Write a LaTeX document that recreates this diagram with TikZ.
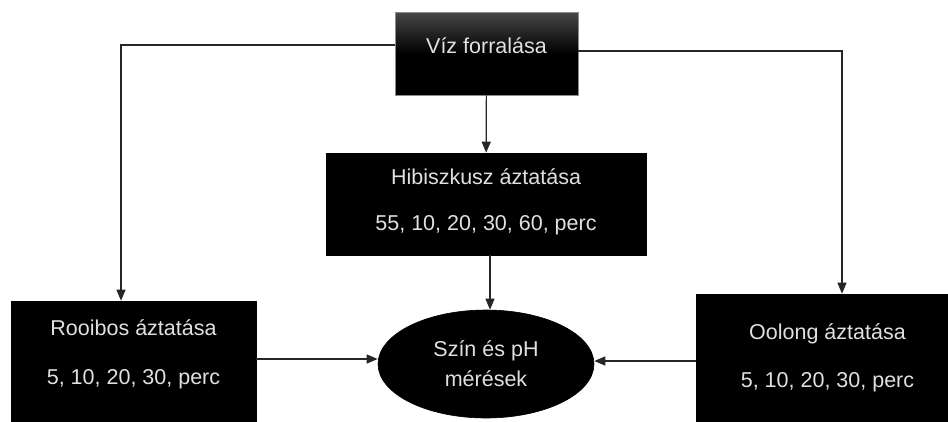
\documentclass[tikz,border=0pt]{standalone}
\usepackage{fontspec}
\setmainfont{Liberation Sans}
\usetikzlibrary{shapes.geometric, arrows.meta, positioning}

\begin{document}
\begin{tikzpicture}[x=1pt, y=-1pt]
    \tikzstyle{tbox}=[rectangle, fill=black, draw=black, line width=0.6pt,
                      text=white!88!black, align=center, inner sep=0pt,
                      font=\fontsize{21.5}{25}\selectfont]
    \tikzstyle{arr}=[-{Triangle[length=11pt, width=9pt]}, black!85, line width=1.2pt]

    \useasboundingbox (0,0) rectangle (948,421);

    \node[tbox, minimum width=183, minimum height=83, draw=black!45,
          top color=black!72, bottom color=black, middle color=black,
          text height=9pt, text depth=9pt] (viz) at (486.5,53.5) {Víz forralása};
    \node[tbox, minimum width=320, minimum height=102,
          text height=60pt, text depth=7pt] (hib) at (486,204)
        {Hibiszkusz áztatása\\[21pt]55, 10, 20, 30, 60, perc};
    \node[tbox, minimum width=245, minimum height=120,
          text height=60pt, text depth=13pt] (roo) at (133.5,361)
        {Rooibos áztatása\\[24pt]5, 10, 20, 30, perc};
    \node[tbox, minimum width=263, minimum height=127] (ool) at (827.5,357.5)
        {Oolong áztatása\\[23pt]5, 10, 20, 30, perc};
    \node[tbox, ellipse, minimum width=216, minimum height=108] (ell) at (486,364)
        {Szín és pH\\[5pt]mérések};

    \draw[arr] ([yshift=8.5pt]viz.west) -| ([xshift=-12.5pt]roo.north);
    \draw[arr] ([yshift=2.5pt]viz.east) -| ([xshift=14.5pt]ool.north);
    \draw[arr] (viz) -- (hib);
    \draw[arr] ([xshift=4pt]hib.south) -- ([xshift=4pt]hib.south |- ell.north);
    \draw[arr] ([yshift=2pt]roo.east) -- ([yshift=2pt]roo.east -| ell.west);
    \draw[arr] ([yshift=-3.5pt]ool.west) -- ([yshift=-3.5pt]ool.west -| ell.east);
\end{tikzpicture}
\end{document}
